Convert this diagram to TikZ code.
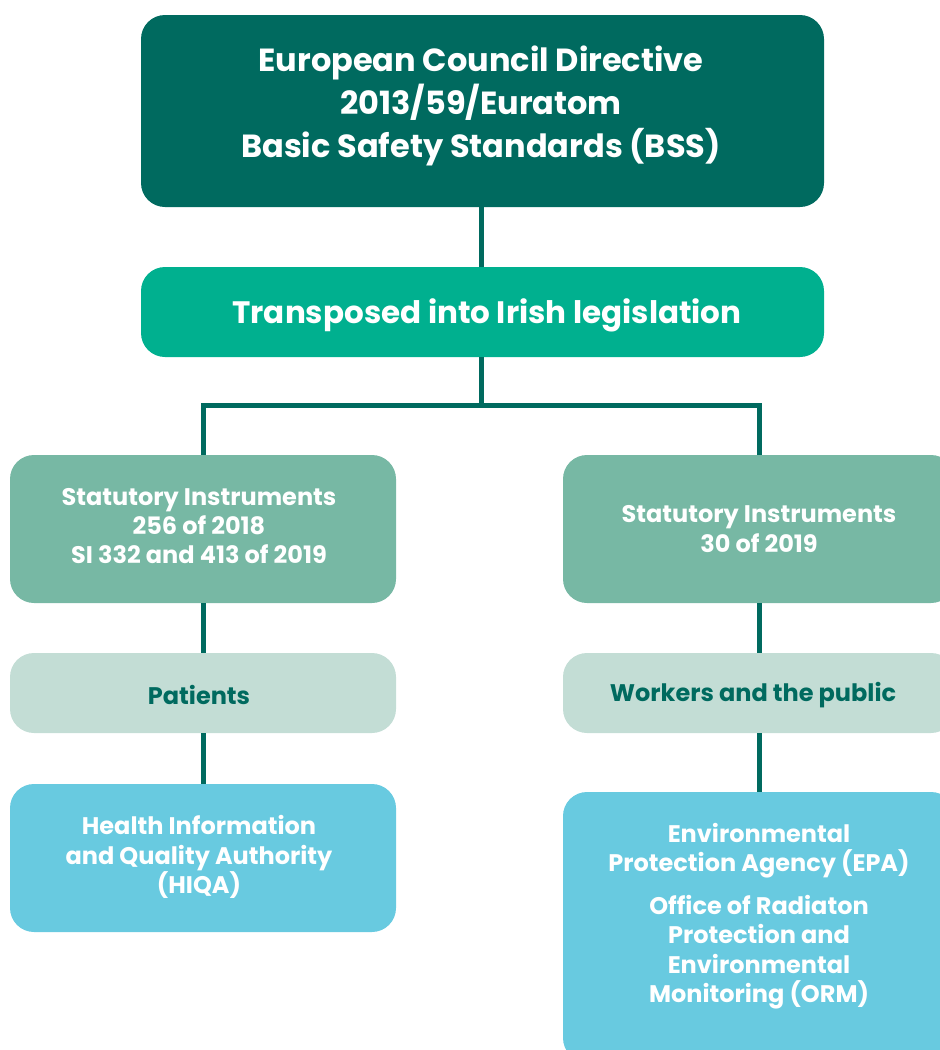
\documentclass[tikz,border=0pt]{standalone}
\usepackage{fontspec}
\setmainfont{Poppins}
\definecolor{dark}{RGB}{0,106,95}
\definecolor{mid}{RGB}{0,176,143}
\definecolor{sage}{RGB}{119,184,164}
\definecolor{pale}{RGB}{195,221,213}
\definecolor{sky}{RGB}{104,202,224}
\begin{document}
\begin{tikzpicture}[x=1pt,y=-1pt,
  box/.style={rectangle, rounded corners=24pt, inner sep=0pt},
  txt/.style={inner sep=0pt, align=center, text=white},
  big/.style={font=\bfseries\fontsize{32}{43}\selectfont},
  small/.style={font=\bfseries\fontsize{24}{29.3}\selectfont},
  link/.style={draw=dark, line width=5pt}]
\useasboundingbox (0,0) rectangle (940,1050);
\clip (0,0) rectangle (940,1050);
\node[box, fill=dark, minimum width=683pt, minimum height=192pt] (top) at (482.5,111) {};
\node[box, fill=mid, minimum width=683pt, minimum height=90pt] (trans) at (482.5,312) {};
\node[box, fill=sage, minimum width=386pt, minimum height=148pt] (siL) at (203,529) {};
\node[box, fill=sage, minimum width=392pt, minimum height=148pt] (siR) at (759,529) {};
\node[box, fill=pale, minimum width=386pt, minimum height=80pt] (pat) at (203,693) {};
\node[box, fill=pale, minimum width=392pt, minimum height=80pt] (wrk) at (759,693) {};
\node[box, fill=sky, minimum width=386pt, minimum height=148pt] (hiqa) at (203,858) {};
\node[box, fill=sky, minimum width=392pt, minimum height=270pt] (epa) at (759,927) {};
\node[txt, big] (topt) at (481,106) {European Council Directive\\2013/59/Euratom\\Basic Safety Standards (BSS)};
\node[txt, font=\bfseries\fontsize{31}{36}\selectfont] (transt) at (487,315) {Transposed into Irish legislation};
\node[txt, small] (siLt) at (199,526) {Statutory Instruments\\256 of 2018\\SI 332 and 413 of 2019};
\node[txt, small] (siRt) at (759,529) {Statutory Instruments\\30 of 2019};
\node[txt, small, text=dark] (patt) at (199,695) {Patients};
\node[txt, small, text=dark] (wrkt) at (753,695) {Workers and the public};
\node[txt, small] (hiqat) at (199,857) {Health Information\\and Quality Authority\\(HIQA)};
\node[txt, small] (epat) at (759,916) {Environmental\\Protection Agency (EPA)\\[14pt]Office of Radiaton\\Protection and\\Environmental\\Monitoring (ORM)};
\coordinate (j) at (481,405);
\draw[link] (top.south -| j) -- (trans.north -| j);
\draw[link] (trans.south -| j) -- (j);
\draw[link] (siL.north) |- (j) -| (siR.north);
\draw[link] (siL.south) -- (pat.north);
\draw[link] (siR.south) -- (wrk.north);
\draw[link] (pat.south) -- (hiqa.north);
\draw[link] (wrk.south) -- (epa.north);
\end{tikzpicture}
\end{document}
